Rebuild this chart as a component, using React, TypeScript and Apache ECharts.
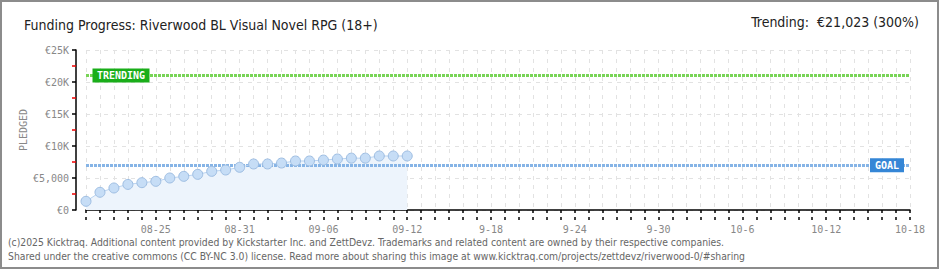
import React, { useEffect, useRef } from "react";
import * as echarts from "echarts";

const titleText = "Funding Progress: Riverwood BL Visual Novel RPG (18+)";
const trendingText = "Trending:  €21,023 (300%)";
const footer1 = "(c)2025 Kicktraq. Additional content provided by Kickstarter Inc. and ZettDevz. Trademarks and related content are owned by their respective companies.";
const footer2 = "Shared under the creative commons (CC BY-NC 3.0) license. Read more about sharing this image at www.kicktraq.com/projects/zettdevz/riverwood-0/#sharing";

// days 08-20 .. 10-18
const days: string[] = [];
{
  const months = [
    { m: 8, from: 20, to: 31 },
    { m: 9, from: 1, to: 30 },
    { m: 10, from: 1, to: 18 },
  ];
  for (const mo of months) {
    for (let d = mo.from; d <= mo.to; d++) {
      days.push(String(mo.m).padStart(2, "0") + "-" + String(d).padStart(2, "0"));
    }
  }
}
const xTickLabels = ["08-25", "08-31", "09-06", "09-12", "9-18", "9-24", "9-30", "10-6", "10-12", "10-18"];
const yTickLabels = ["€0", "€5,000", "€10K", "€15K", "€20K", "€25K"];
const pledged = [1360, 2770, 3440, 4000, 4270, 4480, 5000, 5260, 5570, 6040, 6250, 6670, 7190, 7190, 7340, 7660, 7660, 7800, 7970, 8100, 8100, 8440, 8440, 8440];
const goal = 7000;
const trending = 21023;

const MONO = "'DejaVu Sans Mono', monospace";
const COND = "'DejaVu Sans Condensed', 'Liberation Sans Narrow', 'DejaVu Sans', sans-serif";

export default function App() {
  const ref = useRef<HTMLDivElement>(null);
  useEffect(() => {
    document.body.style.margin = "0";
    const chart = echarts.init(ref.current!, null, { renderer: "svg" });
    const labelShown = (i: number) => i >= 5 && (i - 5) % 6 === 0;
    const xBase = {
      type: "category" as const,
      data: days,
      boundaryGap: false,
      position: "bottom" as const,
      offset: 10,
    };
    chart.setOption({
      animation: false,
      backgroundColor: "#fff",
      grid: { left: 86, right: 30, top: 50, bottom: 60 },
      title: {
        text: titleText,
        left: 19,
        top: 13,
        textStyle: { fontFamily: COND, fontSize: 14, fontWeight: "normal", color: "#222" },
      },
      graphic: [
        {
          type: "rect",
          shape: { x: 1, y: 1, width: 937, height: 267 },
          style: { fill: "none", stroke: "#8c8c8c", lineWidth: 2 },
          silent: true,
        },
        {
          type: "text",
          right: 21,
          top: 15,
          style: { text: trendingText, fontFamily: COND, fontSize: 14, fill: "#222" },
        },
        {
          type: "text",
          left: 8,
          top: 237,
          style: { text: footer1, fontFamily: COND, fontSize: 10.3, fill: "#666" },
        },
        {
          type: "text",
          left: 8,
          top: 251,
          style: { text: footer2, fontFamily: COND, fontSize: 10.3, fill: "#666" },
        },
      ],
      xAxis: [
        {
          ...xBase,
          axisLine: { show: true, lineStyle: { color: "#000", width: 1.5 } },
          axisTick: { show: true, interval: 0, length: 3, lineStyle: { color: "#000", width: 1.5 } },
          axisLabel: {
            show: true,
            interval: (i: number) => labelShown(i),
            formatter: (_v: string, i: number) => (labelShown(i) ? xTickLabels[(i - 5) / 6] : ""),
            fontFamily: MONO,
            fontSize: 10,
            color: "#888",
            margin: 4,
          },
          splitLine: { show: true, interval: 0, lineStyle: { color: "#e2e2e2", type: [4, 5] } },
        },
        {
          ...xBase,
          axisLine: { show: false },
          axisTick: { show: true, inside: true, interval: 0, length: 3, lineStyle: { color: "#000", width: 1.5 } },
          axisLabel: { show: false },
          splitLine: { show: false },
        },
      ],
      yAxis: {
        type: "value",
        min: 0,
        max: 25000,
        interval: 5000,
        offset: 10,
        name: "PLEDGED",
        nameLocation: "middle",
        nameRotate: 90,
        nameGap: 48,
        nameMoveOverlap: false,
        nameTextStyle: { fontFamily: MONO, fontSize: 10, color: "#888" },
        axisLine: { show: true, lineStyle: { color: "#000", width: 1.5 } },
        axisTick: { show: true, length: 4, lineStyle: { color: "#000", width: 1.5 } },
        minorTick: { show: true, splitNumber: 2, length: 4, lineStyle: { color: "#e00", width: 1.5 } },
        axisLabel: {
          formatter: (v: number) => yTickLabels[Math.round(v / 5000)],
          fontFamily: MONO,
          fontSize: 10,
          color: "#888",
          margin: 7,
        },
        splitLine: { show: true, lineStyle: { color: "#e2e2e2", type: [4, 5] } },
      },
      series: [
        {
          type: "line",
          data: pledged,
          symbol: "none",
          lineStyle: { width: 0, opacity: 0 },
          areaStyle: { color: "#edf4fc", opacity: 1 },
          z: 1,
          markLine: {
            silent: true,
            symbol: "none",
            label: { show: false },
            data: [
              { yAxis: goal, lineStyle: { color: "#86b4e6", width: 3, type: [3, 1] } },
              { yAxis: trending, lineStyle: { color: "#78d456", width: 3, type: [3, 1] } },
            ],
            z: 2,
          },
        },
        {
          type: "line",
          data: pledged,
          symbol: "circle",
          symbolSize: 10,
          showAllSymbol: true,
          itemStyle: { color: "#c6ddf6", borderColor: "#9dbde2", borderWidth: 1 },
          lineStyle: { color: "#b9d3f0", width: 1 },
          z: 4,
          markPoint: {
            silent: true,
            symbol: "rect",
            data: [
              {
                coord: [0, trending],
                symbolSize: [57, 14],
                symbolOffset: [35, 0],
                itemStyle: { color: "#1aae1a" },
                label: { show: true, formatter: "TRENDING", color: "#fff", fontFamily: MONO, fontSize: 10, fontWeight: "bold" },
              },
              {
                coord: [days.length - 1, goal],
                symbolSize: [34, 14],
                symbolOffset: [-23, 0],
                itemStyle: { color: "#3586d6" },
                label: { show: true, formatter: "GOAL", color: "#fff", fontFamily: MONO, fontSize: 10, fontWeight: "bold" },
              },
            ],
            z: 5,
          },
        },
      ],
    });
    return () => chart.dispose();
  }, []);
  return <div ref={ref} style={{ width: 940, height: 270 }} />;
}
